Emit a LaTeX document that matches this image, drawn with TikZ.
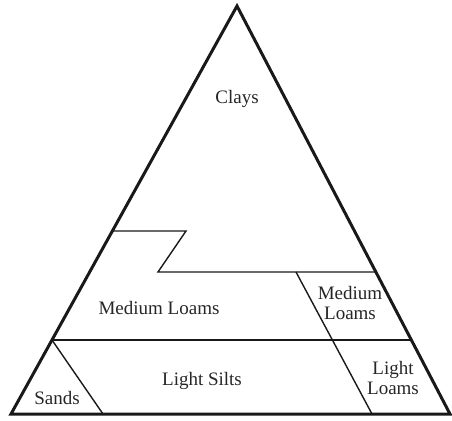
\documentclass[tikz,border=0pt]{standalone}
\usepackage{fontspec}
\setmainfont{Liberation Serif}
\usetikzlibrary{calc}
\begin{document}
\begin{tikzpicture}[x=1pt,y=-1pt,
  outer/.style={draw=black!90,line width=3pt,line join=miter},
  inner/.style={draw=black!90,line width=1.4pt},
  lbl/.style={font=\fontsize{19}{21}\selectfont,text=black!85,inner sep=0pt,align=center}]
\useasboundingbox (0,0) rectangle (452,420);
% corners of the soil triangle
\coordinate (A) at (237,6);
\coordinate (L) at (11,414);
\coordinate (R) at (450,414);
% points where the class borders meet the outer edges
\coordinate (l1) at ($(A)!0.5515!(L)$);
\coordinate (r2) at ($(A)!0.652!(R)$);
\coordinate (l3) at ($(A)!0.8186!(L)$);
\coordinate (r3) at ($(A)!0.8186!(R)$);
\coordinate (z1) at (186,231);
\coordinate (z2) at (158,272);
\coordinate (d1) at (296,272);
\coordinate (d2) at (372,414);
\coordinate (s2) at (103,414);
% class borders
\draw[inner] (l1) -- (z1) -- (z2) -- (r2);
\draw[inner] (l3) -- (r3);
\draw[inner] (l3) -- (s2);
\draw[inner] (d1) -- (d2);
% outline
\draw[outer] (A) -- (L) -- (R) -- cycle;
% class names
\node[lbl] (clays) at (237,99) {Clays};
\node[lbl] (mloam) at (159,308) {Medium Loams};
\node[lbl] (mloam2) at (350,303) {Medium\\[-1pt]Loams};
\node[lbl] (silts) at (202,381) {Light Silts};
\node[lbl] (sands) at (57,398) {Sands};
\node[lbl] (lloam) at (393,378) {Light\\[-1pt]Loams};
\end{tikzpicture}
\end{document}
